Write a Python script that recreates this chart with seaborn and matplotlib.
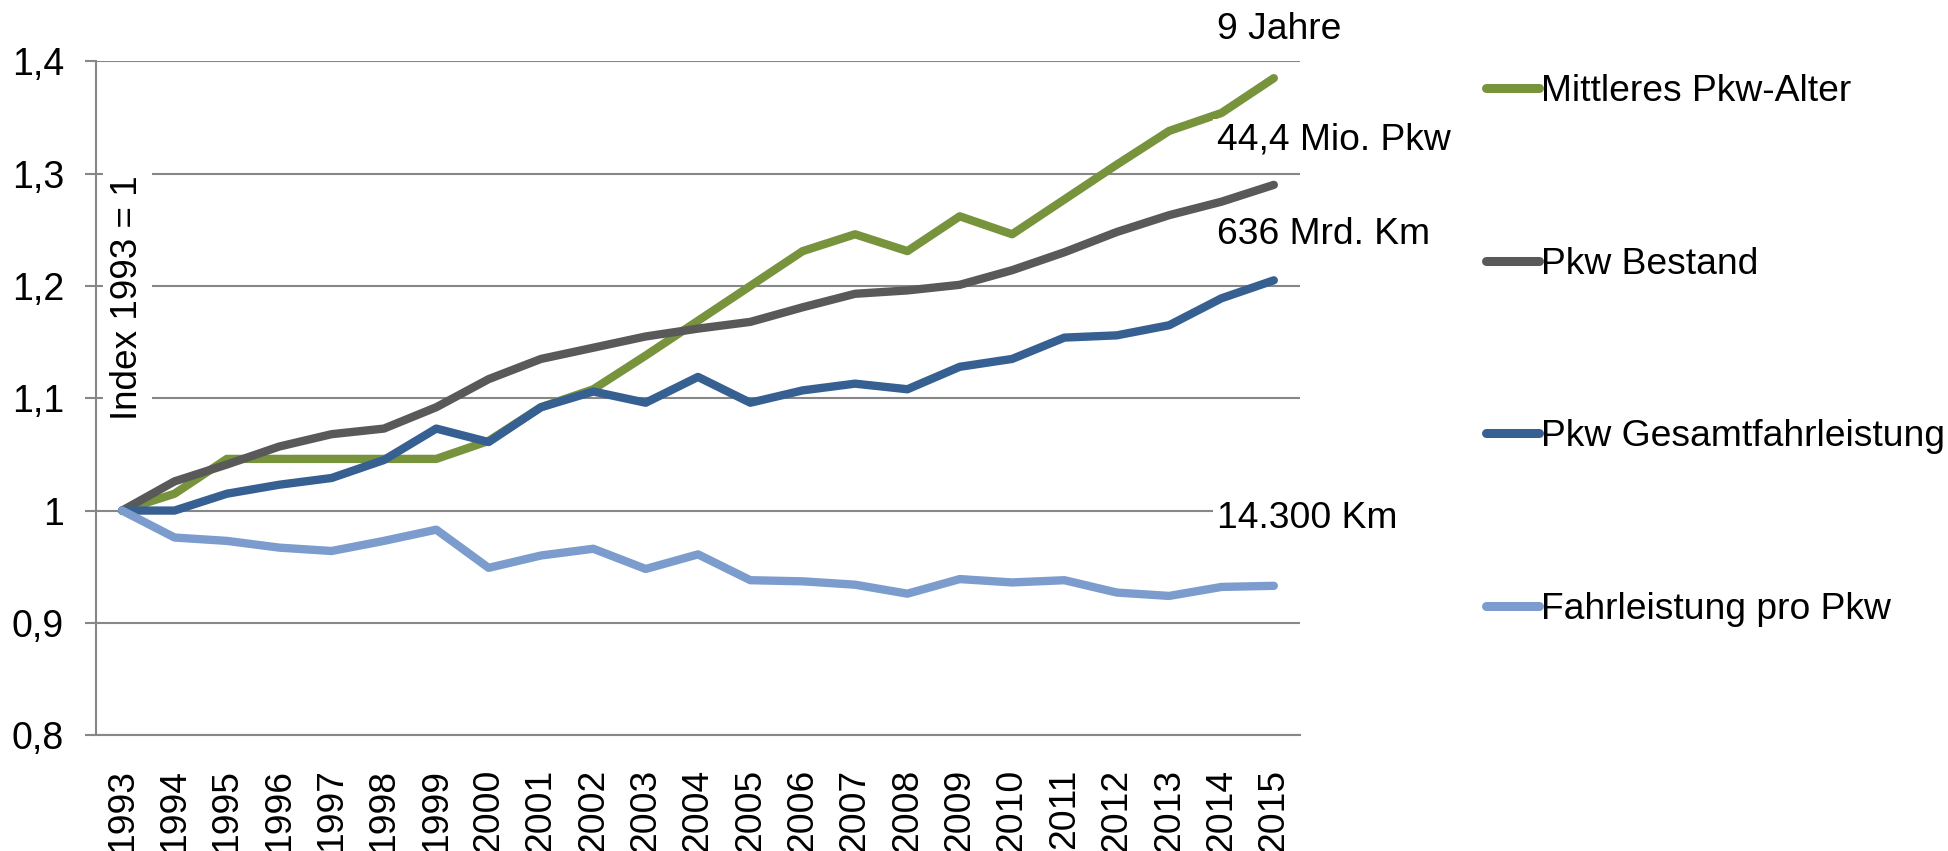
import pandas as pd
import matplotlib.pyplot as plt
import seaborn as sns
from matplotlib.lines import Line2D
from matplotlib.ticker import FixedLocator

# Data (Index 1993 = 1)
years = [str(y) for y in range(1993, 2016)]

pkw_alter = [1.000, 1.015, 1.046, 1.046, 1.046, 1.046, 1.046, 1.062, 1.092, 1.108,
             1.138, 1.169, 1.200, 1.231, 1.246, 1.231, 1.262, 1.246, 1.277, 1.308,
             1.338, 1.354, 1.385]
pkw_bestand = [1.000, 1.026, 1.041, 1.057, 1.068, 1.073, 1.092, 1.117, 1.135, 1.145,
               1.155, 1.162, 1.168, 1.181, 1.193, 1.196, 1.201, 1.214, 1.230, 1.248,
               1.263, 1.275, 1.290]
gesamtfahrleistung = [1.000, 1.000, 1.015, 1.023, 1.029, 1.045, 1.073, 1.061, 1.092, 1.106,
                      1.096, 1.119, 1.096, 1.107, 1.113, 1.108, 1.128, 1.135, 1.154, 1.156,
                      1.165, 1.189, 1.205]
fahrleistung_pro_pkw = [1.000, 0.976, 0.973, 0.967, 0.964, 0.973, 0.983, 0.949, 0.960, 0.966,
                        0.948, 0.961, 0.938, 0.937, 0.934, 0.926, 0.939, 0.936, 0.938, 0.927,
                        0.924, 0.932, 0.933]

series_names = ["Mittleres Pkw-Alter", "Pkw Bestand", "Pkw Gesamtfahrleistung", "Fahrleistung pro Pkw"]
colors = ["#77933C", "#595959", "#376092", "#7B9CCD"]

end_labels = ["9 Jahre", "44,4 Mio. Pkw", "636 Mrd. Km", "14.300 Km"]
end_label_y = [1.428, 1.330, 1.246, 0.993]

ytick_vals = [0.8, 0.9, 1.0, 1.1, 1.2, 1.3, 1.4]
ytick_labels = ["0,8", "0,9", "1", "1,1", "1,2", "1,3", "1,4"]

df = pd.DataFrame({
    "pos": list(range(len(years))),
    series_names[0]: pkw_alter,
    series_names[1]: pkw_bestand,
    series_names[2]: gesamtfahrleistung,
    series_names[3]: fahrleistung_pro_pkw,
})
df_long = df.melt(id_vars="pos", var_name="Serie", value_name="Index")

sns.set_style("white")
plt.rcParams['font.family'] = ['Liberation Sans', 'DejaVu Sans']
plt.rcParams['text.color'] = 'black'
plt.rcParams['xtick.labelcolor'] = 'black'
plt.rcParams['ytick.labelcolor'] = 'black'

grid_col = "#878787"

fig = plt.figure(figsize=(19.48, 8.51), dpi=100)
ax = fig.add_axes([96 / 1948, 1 - 735.2 / 851, 1204 / 1948, (735.2 - 61.3) / 851])

sns.lineplot(
    data=df_long, x="pos", y="Index", hue="Serie",
    palette=dict(zip(series_names, colors)),
    linewidth=6, legend=False, sort=False, ax=ax,
)
for line in ax.get_lines():
    line.set_linewidth(6.0)
    line.set_solid_capstyle("round")
    line.set_solid_joinstyle("round")

ax.set_xlim(-0.5, len(years) - 0.5)
ax.set_ylim(0.8, 1.4)
ax.set_xlabel("")
ax.set_ylabel("")

# x axis: labels at category centres, tick marks on boundaries
ax.set_xticks(range(len(years)))
ax.set_xticklabels(years, rotation=90, fontsize=26.8)
ax.xaxis.set_minor_locator(FixedLocator([i - 0.5 for i in range(len(years) + 1)]))
ax.tick_params(axis="x", which="major", length=0, pad=24)
ax.tick_params(axis="x", which="minor", length=8, width=1.5, color=grid_col, direction="out")

ax.set_yticks(ytick_vals)
ax.set_yticklabels(ytick_labels, fontsize=27)
ax.tick_params(axis="y", length=8, width=1.5, color=grid_col, direction="out", pad=15, left=True)

ax.yaxis.grid(True, color=grid_col, linewidth=1.5)
ax.set_axisbelow(True)
for s in ["top", "right"]:
    ax.spines[s].set_visible(False)
for s in ["left", "bottom"]:
    ax.spines[s].set_color(grid_col)
    ax.spines[s].set_linewidth(1.5)

# end-of-line labels
for txt, yv in zip(end_labels, end_label_y):
    ax.text(0.931, yv, txt, transform=ax.get_yaxis_transform(), fontsize=26.8,
            ha="left", va="center", clip_on=False, zorder=5,
            bbox=dict(boxstyle="square,pad=0.1", facecolor="white", edgecolor="none"))

# axis title inside the plot
fig.text(127.5 / 1948, 1 - 297.5 / 851, "Index 1993 = 1", rotation=90, fontsize=26.6,
         ha="center", va="center", zorder=5,
         bbox=dict(boxstyle="square,pad=0.2", facecolor="white", edgecolor="none"))

handles = [Line2D([0], [0], color=c, lw=6.5, solid_capstyle="round") for c in colors]
fig.legend(handles, series_names, loc="center left",
           bbox_to_anchor=(1486 / 1948, 1 - 350.5 / 851), frameon=False,
           fontsize=26.8, handlelength=1.42, handletextpad=0.05,
           labelspacing=3.7, borderpad=0, borderaxespad=0)

fig.savefig("out.png", dpi=100)
plt.close(fig)
